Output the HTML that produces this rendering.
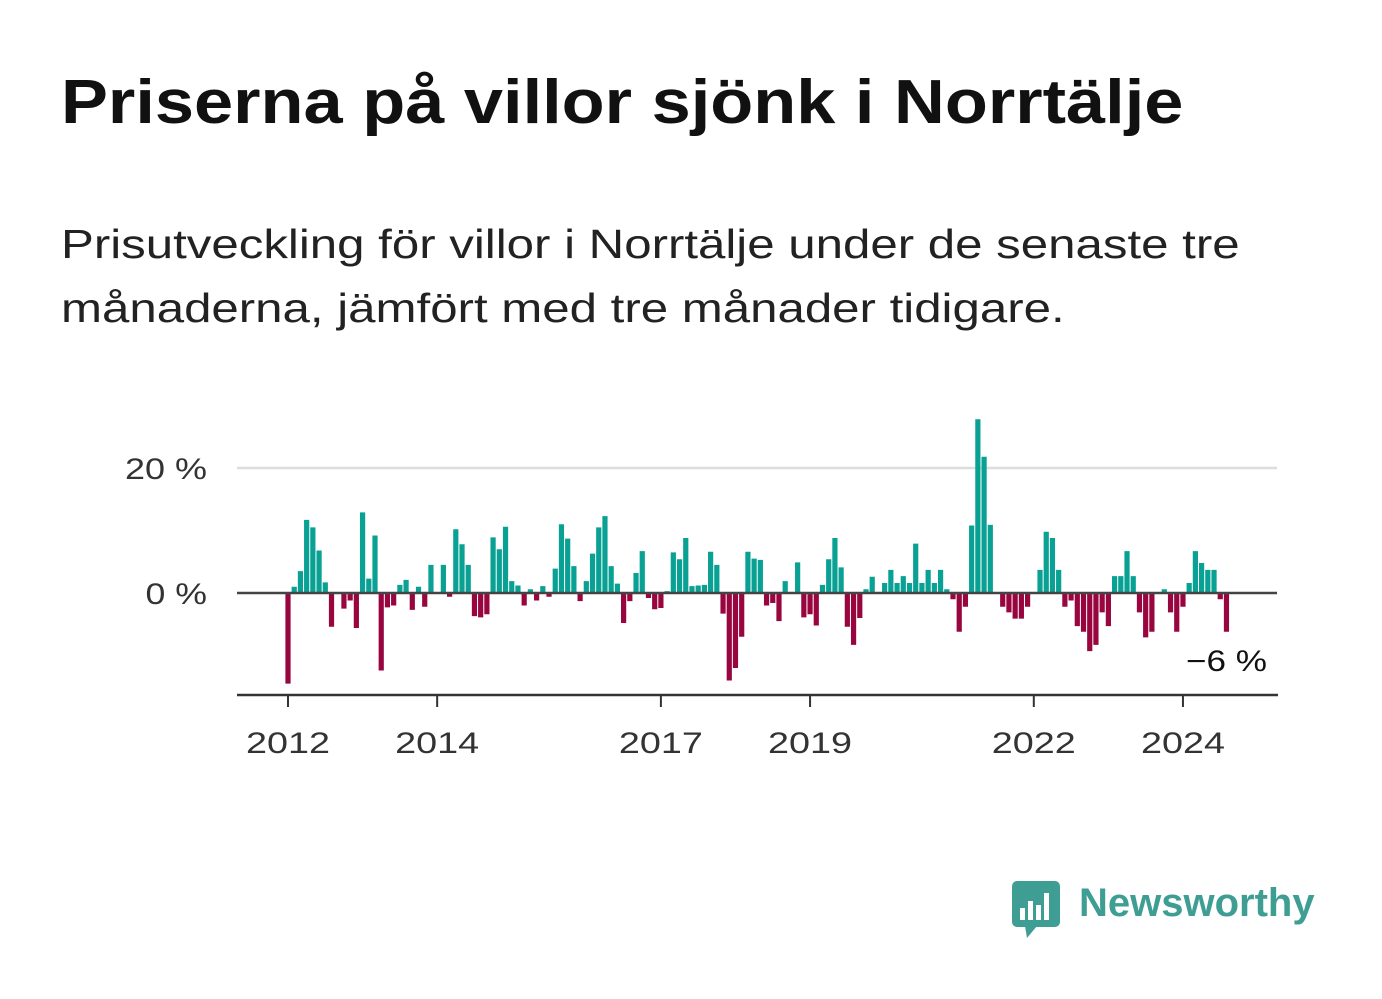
<!DOCTYPE html>
<html><head><meta charset="utf-8"><style>
body{margin:0;width:1382px;height:999px;background:#fff;font-family:"Liberation Sans",sans-serif;color:#111;overflow:hidden;position:relative}
h1{position:absolute;left:61px;top:67px;margin:0;font-size:62px;font-weight:bold;transform:scaleX(1.135);transform-origin:0 0;white-space:nowrap}
p{position:absolute;left:61px;top:212px;margin:0;font-size:41px;line-height:64px;color:#222;transform:scaleX(1.2);transform-origin:0 0;white-space:nowrap}
svg{position:absolute;left:0;top:0}
</style></head><body>
<h1>Priserna på villor sjönk i Norrtälje</h1>
<p>Prisutveckling för villor i Norrtälje under de senaste tre<br>månaderna, jämfört med tre månader tidigare.</p>
<svg id="chart" width="1382" height="999"></svg>
<div style="position:absolute;left:1011px;top:880px;display:flex;align-items:center">
<svg width="50" height="60" style="position:static"><rect x="1" y="1" width="48" height="46" rx="5" fill="#3f9e93"/><polygon points="14,46 26,46 16,58" fill="#3f9e93"/><rect x="9" y="28" width="5" height="12" fill="#fff"/><rect x="17" y="21" width="5" height="19" fill="#fff"/><rect x="25" y="25" width="5" height="15" fill="#fff"/><rect x="33" y="13" width="5" height="27" fill="#fff"/></svg>
<span style="font-size:40px;font-weight:bold;color:#3f9e93;margin-left:18px;margin-top:-14px">Newsworthy</span></div>
<script>
const years=["2012","2014","2017","2019","2022","2024"];
const yearIdx=[0,24,60,84,120,144];
const yTicks=[0,20];
const values=[-14.5,1,3.5,11.7,10.5,6.8,1.7,-5.4,0,-2.5,-1.2,-5.6,
12.9,2.3,9.2,-12.4,-2.3,-2,1.3,2.1,-2.7,1,-2.2,4.5,
0,4.5,-0.6,10.2,7.8,4.5,-3.7,-3.9,-3.4,8.9,7,10.6,
1.9,1.2,-2,0.6,-1.2,1.1,-0.6,3.9,11,8.7,4.3,-1.3,
1.9,6.3,10.5,12.3,4.3,1.5,-4.8,-1.3,3.2,6.7,-0.8,-2.6,
-2.4,0.3,6.5,5.4,8.8,1.1,1.2,1.3,6.6,4.5,-3.3,-14,
-12,-7,6.6,5.5,5.3,-2,-1.6,-4.5,1.9,0,4.9,-3.9,
-3.4,-5.2,1.3,5.4,8.8,4.1,-5.4,-8.3,-4,0.6,2.6,0,
1.6,3.7,1.6,2.7,1.6,7.9,1.6,3.7,1.6,3.7,0.6,-1,
-6.2,-2.2,10.8,27.8,21.8,10.9,0,-2.2,-3.1,-4.1,-4.1,-2.2,
0,3.7,9.8,8.8,3.7,-2.2,-1.2,-5.3,-6.2,-9.3,-8.3,-3.1,
-5.3,2.7,2.7,6.7,2.7,-3.1,-7.1,-6.2,0,0.6,-3.1,-6.2,
-2.2,1.6,6.7,4.8,3.7,3.7,-1,-6.2];
const lastLabel="−6 %";
const svg=document.getElementById('chart');
const NS="http://www.w3.org/2000/svg";
const x=i=>288+i*6.215;
const y=v=>593-v*6.25;
function mk(t,a){const e=document.createElementNS(NS,t);for(const k in a)e.setAttribute(k,a[k]);svg.appendChild(e);return e;}
yTicks.forEach(v=>{
 if(v!==0){const g=mk('line',{x1:237,x2:1277,y1:y(v),y2:y(v),stroke:'#ddd','stroke-width':2.5});
 
 }
 const lbl=v+' %';
 const t=mk('text',{x:207,y:y(v)+11,'text-anchor':'end','font-size':30,fill:'#333',textLength:lbl.length*20.5,lengthAdjust:'spacingAndGlyphs'});
 t.textContent=lbl;
 
 
});
values.forEach((v,i)=>{
 const r=mk('rect',{x:x(i)-2.6,width:5.2,y:Math.min(y(v),593),height:Math.abs(y(v)-593),fill:v>=0?'#0aa195':'#99063f'});
 
 
});
const z=mk('line',{x1:237,x2:1277,y1:593,y2:593,stroke:'#444','stroke-width':2.5});


const ax=mk('line',{x1:237,x2:1278,y1:695,y2:695,stroke:'#333','stroke-width':2.5});


years.forEach((yr,k)=>{
 const tk=mk('line',{x1:x(yearIdx[k]),x2:x(yearIdx[k]),y1:695,y2:707,stroke:'#333','stroke-width':2});
 
 
 const t=mk('text',{x:x(yearIdx[k]),y:753,'text-anchor':'middle','font-size':30,fill:'#333',textLength:84,lengthAdjust:'spacingAndGlyphs'});
 t.textContent=yr;
 
 
});
const l=mk('text',{x:1267,y:671,'text-anchor':'end','font-size':30,fill:'#111',textLength:81,lengthAdjust:'spacingAndGlyphs'});
l.textContent=lastLabel;


</script>
</body></html>
